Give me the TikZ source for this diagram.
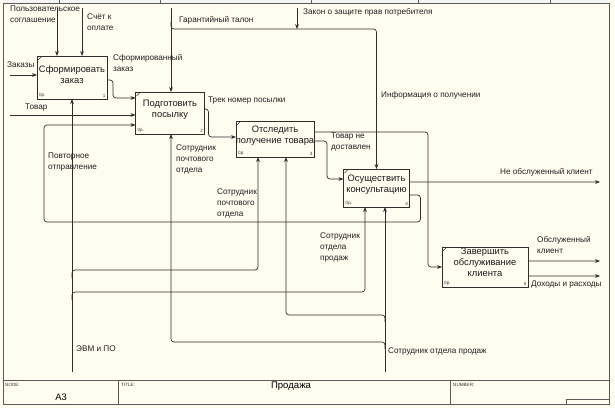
\documentclass[tikz,border=0pt]{standalone}
\usepackage{fontspec}
\setmainfont{Liberation Sans}
\usetikzlibrary{arrows.meta}
\definecolor{bgc}{HTML}{FFFCF0}
\definecolor{lnc}{HTML}{2E2E2E}
\definecolor{frc}{HTML}{5A5A5A}
\newcommand{\lblfont}{\fontsize{8.2}{11}\selectfont}
\newcommand{\boxfont}{\fontsize{9.4}{11}\selectfont}
\newcommand{\tinyfont}{\fontsize{4.6}{5}\selectfont}
\tikzset{
  pbox/.style={draw=lnc, line width=0.8bp, fill=bgc, inner sep=0pt, outer sep=0pt},
  arr/.style={draw=lnc, line width=0.7bp, rounded corners=3bp, -{Stealth[length=5bp,width=3.8bp]}},
  frame/.style={draw=frc, line width=0.8bp},
  lbl/.style={font=\lblfont, align=left, inner sep=0pt, anchor=north west, text=black!88},
  btxt/.style={font=\boxfont, align=center, inner sep=0pt, text=black!90},
  tinytxt/.style={font=\tinyfont, inner sep=0pt, text=black!80},
  corner/.style={draw=lnc, line width=0.5bp}
}
\begin{document}
\begin{tikzpicture}[x=1bp,y=-1bp]
\useasboundingbox (0,0) rectangle (615,408);
\fill[bgc] (0,0) rectangle (615,408);
% header remnant and frame
\fill[white!96!black] (3,0) rectangle (609,3);
\draw[frame] (3,3) rectangle (609,404);
\foreach \hx in {59,160,311,418,550} {\draw[frame] (\hx,0) -- (\hx,3);}
\draw[frame] (3,380.5) -- (609,380.5);
\draw[frame] (118,380.5) -- (118,404);
\draw[frame] (450,380.5) -- (450,404);
\draw[frame] (566,399) rectangle (609,404);
\node[tinytxt, anchor=north west] (fnode) at (5,383) {NODE:};
\node[font=\fontsize{9.4}{11}\selectfont, inner sep=0pt] (fa3) at (61,397) {A3};
\node[tinytxt, anchor=north west] (ftitle) at (121,383) {TITLE:};
\node[font=\fontsize{9.6}{11}\selectfont, inner sep=0pt] (fprod) at (291,386.5) {Продажа};
\node[tinytxt, anchor=north west] (fnum) at (453,383) {NUMBER:};

% process boxes
\node[pbox, minimum width=70bp, minimum height=43bp] (b1) at (72,77.5) {};
\node[pbox, minimum width=69bp, minimum height=42bp] (b2) at (170,113) {};
\node[pbox, minimum width=78bp, minimum height=36bp] (b3) at (275,139) {};
\node[pbox, minimum width=66bp, minimum height=38bp] (b4) at (376.5,188) {};
\node[pbox, minimum width=86bp, minimum height=40bp] (b5) at (485,267) {};

\node[btxt] (t1) at (72,75) {Сформировать\\заказ};
\node[btxt] (t2) at (170,110) {Подготовить\\посылку};
\node[btxt] (t3) at (275,136) {Отследить\\получение товара};
\node[btxt] (t4) at (376.5,184.7) {Осуществить\\консультацию};
\node[btxt] (t5) at (485,262.5) {Завершить\\обслуживание\\клиента};

\foreach \b/\n in {b1/1,b2/2,b3/3,b4/4,b5/5} {
  \draw[corner] (\b.north west) ++(1,4) -- ++(3,-3);
  \node[tinytxt, anchor=south west] (\b op) at ([xshift=2bp,yshift=1.5bp]\b.south west) {0р.};
  \node[tinytxt, anchor=south east] (\b nr) at ([xshift=-1.5bp,yshift=1.5bp]\b.south east) {\n};
}

% free ends
\coordinate (pu) at (57,8);
\coordinate (sch) at (82,8);
\coordinate (zk) at (10,75);
\coordinate (tv) at (10,115);
\coordinate (gt) at (171,8);
\coordinate (gtb) at (171,22);
\coordinate (gtc) at (376.5,29);
\coordinate (zz) at (297,8);
\coordinate (nok) at (600,182);
\coordinate (ok1) at (600,261);
\coordinate (ok2) at (600,276);
\coordinate (fbl) at (44,222);
\coordinate (evm) at (72,372);
\coordinate (evb1) at (72,278);
\coordinate (evc1) at (258,270);
\coordinate (evb2) at (72,300);
\coordinate (evc2) at (365,292);
\coordinate (sop) at (385,372);
\coordinate (spb1) at (385,322);
\coordinate (spc1) at (286,315);
\coordinate (spb2) at (385,349);
\coordinate (spc2) at (171,342);

% inputs and controls
\draw[arr] (pu) -- (pu |- b1.north);
\draw[arr] (sch) -- (sch |- b1.north);
\draw[arr] (zk) -- (zk -| b1.west);
\draw[arr] (tv) -- (tv -| b2.west);
\draw[arr] (gt) -- (gt |- b2.north);
\draw[arr] (gtb) |- (gtc) -- (b4.north);
\draw[arr] (zz) -- (zz |- gtc);

% flows between boxes
\draw[arr] ([yshift=-2.5bp]b1.east) -- ++(6,0) |- ([yshift=15bp]b2.west);
\draw[arr] ([yshift=4bp]b2.east) -- ++(4,0) |- ([yshift=2bp]b3.west);
\draw[arr] ([yshift=7bp]b3.east) -| ([xshift=-14bp]b5.west) -- (b5.west);
\draw[arr] ([yshift=-2bp]b3.east) -- ++(13,0) |- ([yshift=9bp]b4.west);
\draw[arr] ([yshift=6bp]b4.east) -- (nok);
\draw[arr] ([yshift=-7bp]b4.east) -- ++(11,0) |- (fbl) |- ([yshift=-12bp]b2.west);
\draw[arr] ([yshift=6bp]b5.east) -- (ok1);
\draw[arr] ([yshift=-9bp]b5.east) -- (ok2);

% mechanisms
\draw[arr] (evm) -- (evm |- b1.south);
\draw[arr] (evb1) |- (evc1) -- (evc1 |- b3.south);
\draw[arr] (evb2) |- (evc2) -- (evc2 |- b4.south);
\draw[arr] (sop) -- (sop |- b4.south);
\draw[arr] (spb1) |- (spc1) -- (spc1 |- b3.south);
\draw[arr] (spb2) |- (spc2) -- (spc2 |- b2.south);

% labels
\node[lbl] (l1) at (10,5.5) {Пользовательское\\соглашение};
\node[lbl] (l2) at (87,13.5) {Счёт к\\оплате};
\node[lbl] (l3) at (7,62) {Заказы};
\node[lbl] (l4) at (113,54.5) {Сформированный\\заказ};
\node[lbl] (l5) at (25,103.5) {Товар};
\node[lbl] (l6) at (179,16) {Гарантийный талон};
\node[lbl] (l7) at (303,8.5) {Закон о защите прав потребителя};
\node[lbl] (l8) at (381,91.5) {Информация о получении};
\node[lbl] (l9) at (208,96.5) {Трек номер посылки};
\node[lbl] (l10) at (48,152.5) {Повторное\\отправление};
\node[lbl] (l11) at (176,144.5) {Сотрудник\\почтового\\отдела};
\node[lbl] (l12) at (331,132.5) {Товар не\\доставлен};
\node[lbl] (l13) at (217,188.5) {Сотрудник\\почтового\\отдела};
\node[lbl] (l14) at (500,168) {Не обслуженный клиент};
\node[lbl] (l15) at (320,232.5) {Сотрудник\\отдела\\продаж};
\node[lbl] (l16) at (537,236) {Обслуженный\\клиент};
\node[lbl] (l17) at (531,281) {Доходы и расходы};
\node[lbl] (l18) at (76,345.5) {ЭВМ и ПО};
\node[lbl] (l19) at (388,347.5) {Сотрудник отдела продаж};
\end{tikzpicture}
\end{document}
